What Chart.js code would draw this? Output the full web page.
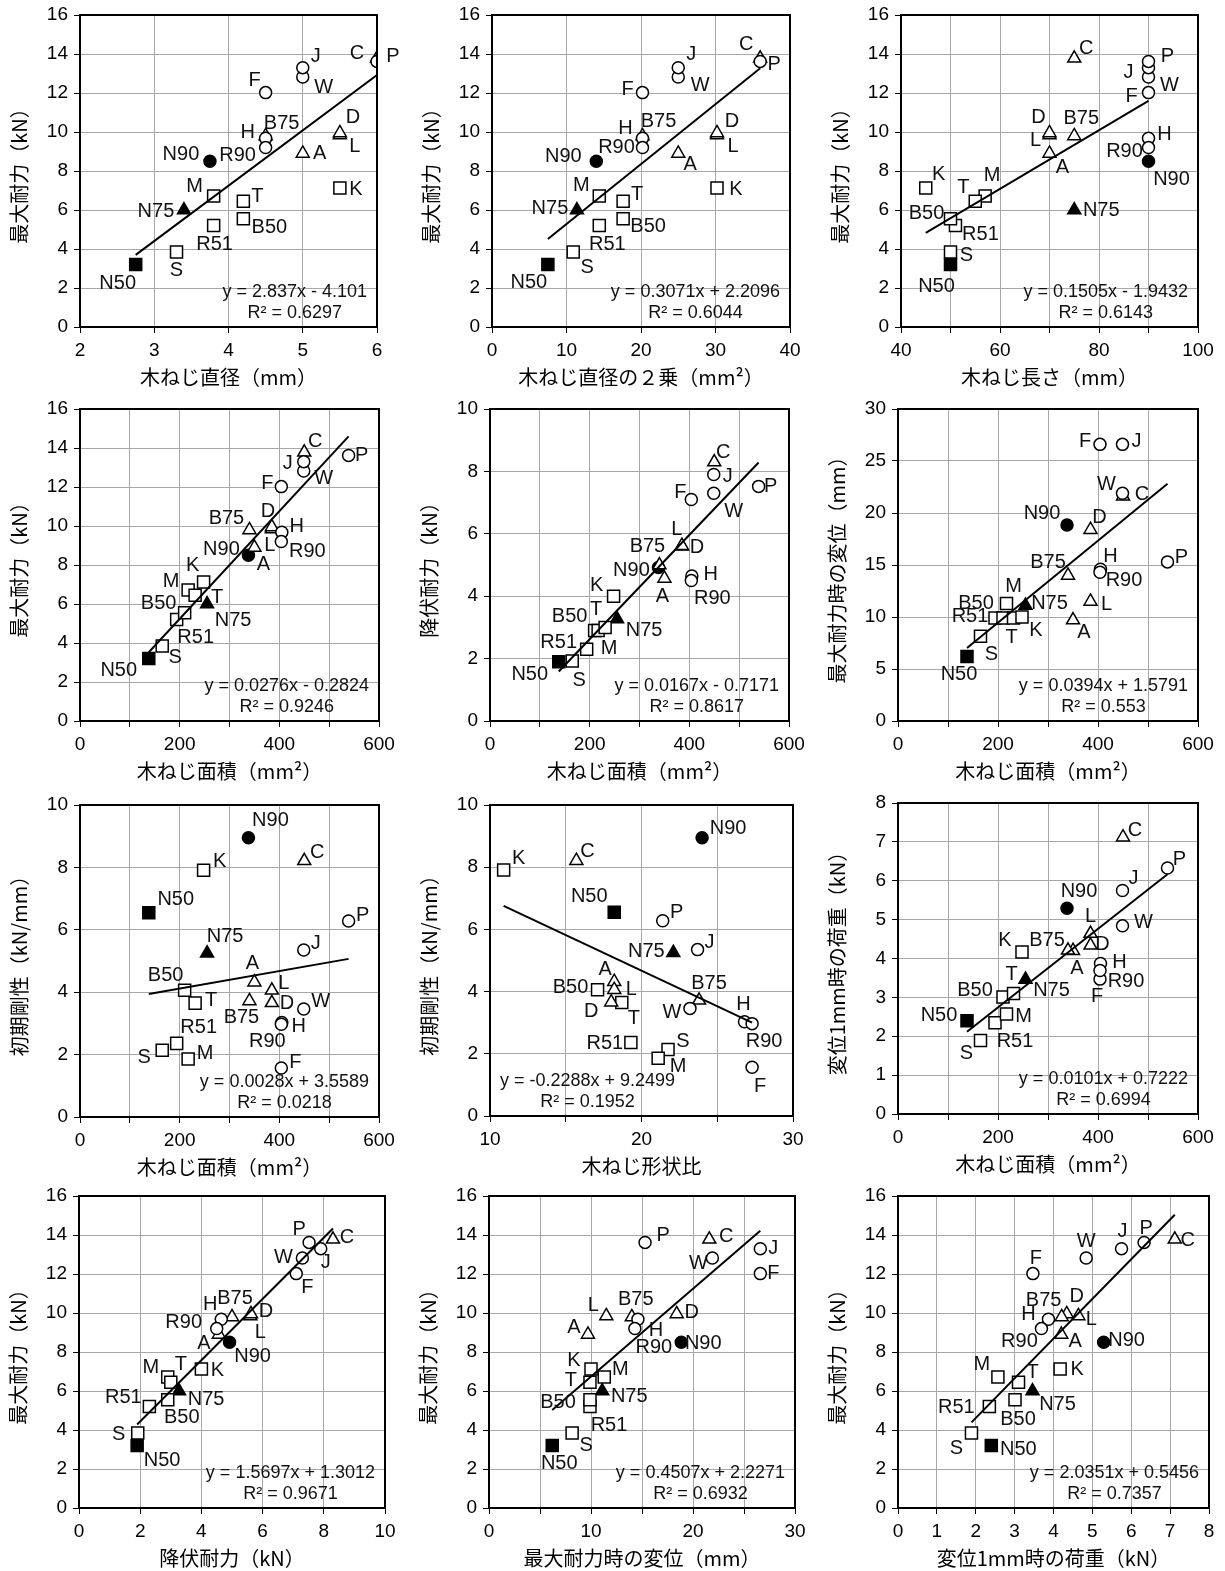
<!DOCTYPE html>
<html><head><meta charset="utf-8">
<script src="https://cdn.jsdelivr.net/npm/chart.js@4.4.1/dist/chart.umd.min.js"></script>
<style>
html,body{margin:0;padding:0;background:#fff;}
body{width:1225px;height:1571px;position:relative;overflow:hidden;}
.pan{position:absolute;}
</style></head><body>
<script>
// ---- data (order of specimens) ----
const specimens = ['N50','N75','N90','S','R51','B50','M','T','K','A','L','D','B75','C','F','H','R90','W','J','P'];
const diameter   = [2.75,3.4,3.75,3.3,3.8,4.2,3.8,4.2,5.5,5.0,5.5,5.5,4.5,6.0,4.5,4.5,4.5,5.0,5.0,6.0];
const diameterSq = [7.5,11.4,14.0,10.9,14.4,17.6,14.4,17.6,30.2,25.0,30.2,30.2,20.2,36.0,20.2,20.2,20.2,25.0,25.0,36.0];
const screwLength= [50,75,90,50,51,50,57,55,45,70,70,70,75,75,90,90,90,90,90,90];
const screwArea  = [138,255,338,165,194,210,217,231,248,350,385,385,340,450,404,405,404,449,449,539];
const maxLoad    = [3.2,6.0,8.5,3.85,5.2,5.55,6.72,6.45,7.13,8.9,9.85,9.95,9.8,13.78,12.02,9.68,9.2,12.82,13.3,13.62];
const yieldLoad  = [1.9,3.27,4.92,1.92,2.3,2.9,2.9,3.0,4.0,4.57,5.6,5.62,5.0,8.3,7.1,4.65,4.5,7.3,7.9,7.52];
const dispAtMax  = [6.2,11.1,18.85,8.15,9.9,9.9,11.3,9.9,10.0,9.7,11.5,18.4,14.0,21.6,26.6,14.6,14.3,21.9,26.6,15.3];
const initStiff  = [6.55,5.25,8.95,2.14,2.36,4.06,1.86,3.65,7.91,4.32,4.06,3.66,3.72,8.21,1.57,3.03,2.97,3.46,5.35,6.28];
const shapeRatio = [18.2,22.1,24.0,21.75,19.3,17.1,21.1,18.7,10.9,18.2,18.2,18.0,23.8,15.7,27.3,26.8,27.3,23.2,23.7,21.4];
const loadAt1mm  = [2.4,3.46,5.29,1.89,2.35,3.01,2.57,3.1,4.17,4.2,4.64,4.34,4.21,7.12,3.47,3.87,3.69,4.84,5.75,6.33];

// regression lines shown in each panel
const slopes     = [2.837,0.3071,0.1505,0.0276,0.0167,0.0394,0.0028,-0.2288,0.0101,1.5697,0.4507,2.0351];
const intercepts = [-4.101,2.2096,-1.9432,-0.2824,-0.7171,1.5791,3.5589,9.2499,0.7222,1.3012,2.2271,0.5456];
const eqTexts = ['y = 2.837x - 4.101','y = 0.3071x + 2.2096','y = 0.1505x - 1.9432','y = 0.0276x - 0.2824',
  'y = 0.0167x - 0.7171','y = 0.0394x + 1.5791','y = 0.0028x + 3.5589','y = -0.2288x + 9.2499',
  'y = 0.0101x + 0.7222','y = 1.5697x + 1.3012','y = 0.4507x + 2.2271','y = 2.0351x + 0.5456'];
const r2Texts = ['R² = 0.6297','R² = 0.6044','R² = 0.6143','R² = 0.9246','R² = 0.8617','R² = 0.553',
  'R² = 0.0218','R² = 0.1952','R² = 0.6994','R² = 0.9671','R² = 0.6932','R² = 0.7357'];

// axis titles
const xTitles = ['木ねじ直径（mm）','木ねじ直径の２乗（mm²）','木ねじ長さ（mm）','木ねじ面積（mm²）','木ねじ面積（mm²）','木ねじ面積（mm²）',
  '木ねじ面積（mm²）','木ねじ形状比','木ねじ面積（mm²）','降伏耐力（kN）','最大耐力時の変位（mm）','変位1mm時の荷重（kN）'];
const yTitles = ['最大耐力（kN）','最大耐力（kN）','最大耐力（kN）','最大耐力（kN）','降伏耐力（kN）','最大耐力時の変位（mm）',
  '初期剛性（kN/mm）','初期剛性（kN/mm）','変位1mm時の荷重（kN）','最大耐力（kN）','最大耐力（kN）','最大耐力（kN）'];
// axis ranges [min, max, step, labelEvery]
const xRanges = [[2,6,1,1],[0,40,10,10],[40,100,10,20],[0,600,100,200],[0,600,100,200],[0,600,100,200],
  [0,600,100,200],[10,30,5,10],[0,600,100,200],[0,10,2,2],[0,30,5,10],[0,8,1,1]];
const yRanges = [[0,16,2],[0,16,2],[0,16,2],[0,16,2],[0,10,2],[0,30,5],[0,10,2],[0,10,2],[0,8,1],[0,16,2],[0,16,2],[0,16,2]];
const xSeries = [diameter,diameterSq,screwLength,screwArea,screwArea,screwArea,screwArea,shapeRatio,screwArea,yieldLoad,dispAtMax,loadAt1mm];
const ySeries = [maxLoad,maxLoad,maxLoad,maxLoad,yieldLoad,dispAtMax,initStiff,initStiff,loadAt1mm,maxLoad,maxLoad,maxLoad];

// ---- styles / layout ----
const markerKind = {N50:'rect',S:'rect',R51:'rect',B50:'rect',M:'rect',T:'rect',K:'rect',
  N75:'triangle',A:'triangle',L:'triangle',D:'triangle',B75:'triangle',C:'triangle',
  N90:'circle',F:'circle',H:'circle',R90:'circle',W:'circle',J:'circle',P:'circle'};
const markerFilled = {N50:true,N75:true,N90:true};
const markerRadius = {rect:8.5, triangle:7.5, circle:6};
const rects = [[80,377,15,327],[492,790,15,327],[901,1198,15,327],
  [80,379,409,721],[490,789,409,721],[898,1198,409,721],
  [80,379,805,1117],[490,793,805,1116],[898,1198,803,1114],
  [79,385,1196,1508],[489,795,1196,1508],[898,1209,1196,1508]];
const eqSide = ['r','r','r','r','r','r','r','l','r','r','r','r'];
const labelOffsets = [
 {N50:[-18,19],S:[0,19],R51:[1,19],M:[-19,-9],T:[14,-5],B50:[26,9],K:[16,2],N75:[-28,1],N90:[-29,-7],R90:[-28,8],H:[-18,-6],B75:[16,-12],A:[17,0],D:[13,-15],L:[15,12],F:[-11,-12],J:[13,-11],W:[21,10],C:[-20,-5],P:[16,-5]},
 {N50:[-19,18],S:[14,16],R51:[8,19],M:[-18,-10],T:[14,-7],B50:[25,8],K:[19,2],N75:[-27,-2],N90:[-33,-5],R90:[-26,0],H:[-17,-10],B75:[16,-14],A:[12,11],D:[15,-11],L:[16,12],F:[-15,-3],J:[13,-13],W:[22,8],C:[-14,-14],P:[14,3]},
 {K:[13,-13],B50:[-24,-5],S:[16,4],N50:[-14,22],R51:[25,9],T:[-12,-14],M:[7,-20],L:[-14,6],D:[-11,-15],A:[13,14],B75:[7,-17],C:[12,-10],N75:[27,0],P:[19,-5],J:[-20,5],W:[21,8],F:[-17,4],H:[16,-4],R90:[-24,4],N90:[23,18]},
 {N50:[-30,12],S:[13,12],R51:[19,18],B50:[-26,-9],M:[-17,-8],T:[22,2],K:[-11,-16],N75:[26,16],N90:[-27,-6],A:[9,17],L:[-2,17],D:[-4,-15],B75:[-23,-11],H:[15,-6],R90:[26,10],F:[-14,-3],J:[-16,2],W:[20,7],C:[11,-11],P:[13,0]},
 {N50:[-29,13],S:[7,19],R51:[-28,-7],B50:[-25,-14],M:[11,18],T:[-9,-18],K:[-17,-11],N75:[27,12],N90:[-27,3],A:[-2,18],B75:[-12,-19],L:[-5,-17],D:[15,2],H:[19,-1],R90:[21,18],F:[-11,-7],J:[14,2],W:[20,18],C:[9,-10],P:[12,0]},
 {N50:[-8,18],S:[11,18],R51:[-25,-2],B50:[-27,-15],M:[7,-17],T:[-2,19],K:[14,13],N75:[24,-2],N90:[-25,-11],A:[11,12],L:[16,3],D:[9,-12],B75:[-20,-13],H:[10,-13],R90:[24,8],P:[14,-4],W:[-16,-9],C:[19,-2],F:[-15,-3],J:[14,-3]},
 {N90:[22,-17],K:[16,-9],C:[13,-8],N50:[27,-13],P:[14,-6],N75:[18,-17],J:[12,-7],A:[-2,-19],L:[12,-7],B50:[-19,-15],T:[16,-3],B75:[-8,17],D:[15,1],W:[17,-8],H:[17,4],R90:[-14,17],R51:[22,-16],S:[-18,7],M:[17,-5],F:[14,-6]},
 {K:[15,-12],C:[11,-9],N50:[-25,-16],N90:[26,-9],P:[14,-8],N75:[-27,-1],J:[12,-7],A:[-9,-12],L:[17,0],B50:[-27,-2],D:[-20,9],T:[12,16],B75:[10,-17],W:[-18,4],H:[-1,-17],R90:[12,18],R51:[-26,1],S:[15,-8],M:[20,8],F:[8,19]},
 {N50:[-28,-5],S:[-14,13],R51:[20,19],M:[17,2],B50:[-28,-7],T:[-2,-19],K:[-17,-11],N75:[26,11],N90:[12,-17],B75:[-21,-10],A:[4,18],L:[0,-17],D:[12,-1],H:[19,-1],R90:[26,11],F:[-3,17],W:[21,-3],J:[11,-12],C:[12,-7],P:[12,-8]},
 {S:[-19,2],N50:[25,15],R51:[-26,-9],B50:[14,18],M:[-17,-9],T:[10,-18],N75:[27,8],K:[16,2],A:[-15,9],R90:[-33,-6],H:[-11,-15],B75:[3,-18],N90:[23,14],D:[15,-2],L:[10,17],F:[11,14],W:[-19,-1],J:[5,14],P:[-10,-13],C:[14,-2]},
 {N50:[7,18],S:[14,13],R51:[19,19],B50:[-32,3],T:[-19,-2],K:[-17,-8],M:[16,-7],N75:[27,5],A:[-14,-7],L:[-13,-10],B75:[4,-17],H:[18,11],R90:[19,19],D:[15,-1],N90:[22,1],P:[18,-7],W:[-14,5],C:[17,-3],J:[13,0],F:[13,0]},
 {S:[-15,16],N50:[27,4],R51:[-33,1],B50:[3,20],M:[-16,-12],T:[14,-10],N75:[25,13],K:[17,1],A:[14,7],R90:[-22,13],H:[-20,-5],B75:[-18,-16],D:[10,-17],L:[13,4],N90:[23,-2],F:[3,-15],W:[0,-17],J:[1,-17],P:[2,-14],C:[13,1]}
];

const NUM_FONT = '"Liberation Sans", Arial, sans-serif';
const JP_FONT = '"Noto Sans CJK JP", sans-serif';

const framePlugin = {
  id:'frame',
  afterDraw(chart){
    const {ctx, chartArea:a} = chart;
    ctx.save(); ctx.strokeStyle='#000'; ctx.lineWidth=2;
    ctx.strokeRect(a.left, a.top, a.right-a.left, a.bottom-a.top);
    ctx.restore();
  }
};
const textPlugin = {
  id:'texts',
  afterDatasetsDraw(chart){
    const i = chart.options.panelIndex;
    const {ctx, chartArea:a} = chart;
    const meta = chart.getDatasetMeta(1);
    ctx.save();
    ctx.fillStyle='#111'; ctx.textAlign='center'; ctx.textBaseline='middle';
    ctx.font = '20px ' + NUM_FONT;
    meta.data.forEach((el, j) => {
      const n = specimens[j]; const o = labelOffsets[i][n] || [14,0];
      ctx.fillText(n, el.x + o[0], el.y + o[1]);
    });
    ctx.font = '18px ' + NUM_FONT;
    const w = ctx.measureText(eqTexts[i]).width;
    const cx = eqSide[i]==='r' ? a.right - 10 - w/2 : a.left + 10 + w/2;
    ctx.fillText(eqTexts[i], cx, a.bottom - 35);
    ctx.fillText(r2Texts[i], cx, a.bottom - 14);
    ctx.restore();
  }
};

function makePanel(i){
  const [L,R,T,B] = rects[i];
  const yW = 80, xH = 65, padT = 15;
  const padR = Math.min(25, 1225 - R);
  const left = L - yW, top = T - padT;
  const w = (R - L) + yW + padR, h = (B - T) + padT + xH;
  const div = document.createElement('div');
  div.className = 'pan';
  Object.assign(div.style, {left:left+'px', top:top+'px', width:w+'px', height:h+'px'});
  const cv = document.createElement('canvas');
  cv.width = w; cv.height = h; cv.style.width = w+'px'; cv.style.height = h+'px';
  div.appendChild(cv); document.body.appendChild(div);

  const xs = xSeries[i], ys = ySeries[i];
  const pts = specimens.map((n,j) => ({x: xs[j], y: ys[j]}));
  const xmin = Math.min(...xs), xmax = Math.max(...xs);
  const trend = [{x:xmin, y:slopes[i]*xmin + intercepts[i]}, {x:xmax, y:slopes[i]*xmax + intercepts[i]}];
  const [x0,x1,xs_,xl] = xRanges[i];
  const [y0,y1,ys_] = yRanges[i];

  new Chart(cv, {
    type:'scatter',
    data:{datasets:[
      {data:trend, showLine:true, pointRadius:0, borderColor:'#000', borderWidth:2, order:0},
      {data:pts, order:1,
       pointStyle: c => markerKind[specimens[c.dataIndex]],
       pointRadius: c => markerRadius[markerKind[specimens[c.dataIndex]]],
       pointHoverRadius: c => markerRadius[markerKind[specimens[c.dataIndex]]],
       backgroundColor: c => markerFilled[specimens[c.dataIndex]] ? '#000' : '#fff',
       borderColor:'#000', borderWidth:1.5}
    ]},
    options:{
      panelIndex:i,
      responsive:false, animation:false, devicePixelRatio:1,
      events:[],
      layout:{padding:{left:0, top:padT, right:padR, bottom:0}},
      plugins:{legend:{display:false}, tooltip:{enabled:false}},
      scales:{
        x:{type:'linear', min:x0, max:x1,
           afterFit: s => {s.height = xH; s.paddingLeft = 0; s.paddingRight = 0;},
           ticks:{stepSize:xs_, autoSkip:false, maxRotation:0, color:'#000', padding:6,
                  font:{family:NUM_FONT, size:19},
                  callback: v => (Math.abs(((v - x0) / xl) - Math.round((v - x0) / xl)) < 1e-6) ? String(v) : ''},
           grid:{color:'#a8a8a8', lineWidth:1, tickLength:6, tickColor:'#000'},
           border:{display:false},
           title:{display:true, text:xTitles[i], color:'#000', font:{family:JP_FONT, size:20}, padding:{top:0,bottom:3}}},
        y:{type:'linear', min:y0, max:y1,
           afterFit: s => {s.width = yW; s.paddingTop = 0; s.paddingBottom = 0;},
           ticks:{stepSize:ys_, autoSkip:false, color:'#000', padding:6, font:{family:NUM_FONT, size:19}},
           grid:{color:'#a8a8a8', lineWidth:1, tickLength:6, tickColor:'#000'},
           border:{display:false},
           title:{display:true, text:yTitles[i], color:'#000', font:{family:JP_FONT, size:20}, padding:{top:7,bottom:0}}}
      }
    },
    plugins:[textPlugin, framePlugin]
  });
}
for (let i = 0; i < 12; i++) makePanel(i);
</script>
</body></html>
